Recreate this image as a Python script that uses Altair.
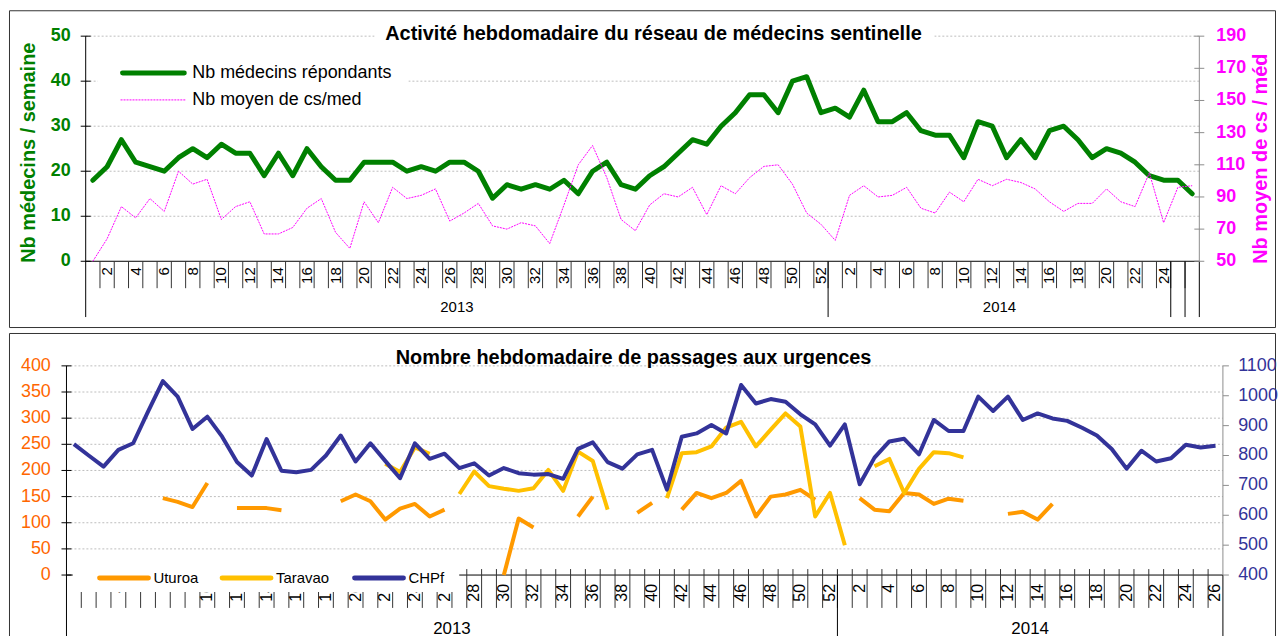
import altair as alt
import pandas as pd

FONT = "Liberation Sans"
GREEN = "#008000"
MAGENTA = "#FF00FF"
ORANGE = "#FF9900"
ORANGE_LBL = "#FF6600"
GOLD = "#FFC000"
NAVY = "#333399"
GRID = "#BDBDBD"
AXGRAY = "#8C8C8C"

# ---------------- data ----------------
weeks_2013 = list(range(1, 53))
weeks_2014 = list(range(1, 27))

medecins = [18, 21, 27, 22, 21, 20, 23, 25, 23, 26,
            24, 24, 19, 24, 19, 25, 21, 18, 18, 22,
            22, 22, 20, 21, 20, 22, 22, 20, 14, 17,
            16, 17, 16, 18, 15, 20, 22, 17, 16, 19,
            21, 24, 27, 26, 30, 33, 37, 37, 33, 40,
            41, 33,
            34, 32, 38, 31, 31, 33, 29, 28, 28, 23,
            31, 30, 23, 27, 23, 29, 30, 27, 23, 25,
            24, 22, 19, 18, 18, 15]

cs_med = [43, 64, 84, 77, 89, 81, 106, 98, 101, 76,
          84, 87, 67, 67, 71, 83, 89, 68, 58, 87,
          74, 96, 89, 91, 95, 75, 80, 86, 72, 70,
          74, 72, 61, 85, 110, 122, 102, 76, 69, 85,
          92, 90, 96, 79, 97, 92, 102, 109, 110, 98,
          80, 73,
          63, 91, 97, 90, 91, 96, 83, 80, 93, 87,
          101, 97, 101, 99, 95, 87, 81, 86, 86, 95,
          87, 84, 105, 74, 96, 97]

uturoa = ([None] * 6 +
          [147, 140, 130, 176, None, 128, 128, 128, 124, None,
           None, None, 141, 154, 141, 106, 127, 136, 112, 125,
           None, None, None, 0, 108, 91, None, None, 112, 150,
           None, None, 119, 138, None, 125, 157, 147, 157, 180,
           112, 150, 154, 163, 144, None] +
          [None, 147, 125, 122, 157, 154, 136, 146, 142, None,
           None, 117, 121, 106, 136] + [None] * 11)

taravao = ([None] * 21 +
           [213, 197, 244, 232, None, 155, 198, 170, 165, 161,
            166, 201, 161, 236, 218, 125, None, None, None, 147,
            233, 235, 246, 282, 293, 246, 278, 309, 284, 112,
            157] +
           [57, None, 208, 222, 157, 203, 235, 233, 225] + [None] * 17)

chpf = [838, 800, 763, 819, 841, 947, 1049, 997, 889, 930,
        863, 778, 733, 855, 749, 744, 752, 800, 867, 780,
        841, 782, 724, 841, 789, 806, 758, 774, 733, 758,
        741, 736, 738, 722, 822, 844, 778, 756, 804, 819,
        686, 863, 874, 902, 874, 1036, 974, 989, 980, 938,
        904, 833,
        904, 704, 793, 847, 856, 804, 919, 882, 882, 997,
        949, 997, 919, 941, 924, 916, 893, 867, 822, 756,
        816, 780, 791, 836, 827, 833]

top_left_ticks = [0, 10, 20, 30, 40, 50]
top_right_ticks = [50, 70, 90, 110, 130, 150, 170, 190]
bot_left_ticks = [0, 50, 100, 150, 200, 250, 300, 350, 400]
bot_right_ticks = [400, 500, 600, 700, 800, 900, 1000, 1100]

# labelled category groups: (label, first idx, last idx)
top_groups = [("2013", 1, 52), ("2014", 53, 76), ("", 77, 77), ("", 78, 78)]
bot_groups = [("2013", 1, 52), ("2014", 53, 78)]

TOP_TITLE = "Activité hebdomadaire du réseau de médecins sentinelle"
BOT_TITLE = "Nombre hebdomadaire de passages aux urgences"
TOP_YL_TITLE = "Nb médecins / semaine"
TOP_YR_TITLE = "Nb moyen de cs / méd"
TOP_LEG = ["Nb médecins répondants", "Nb moyen de cs/med"]
BOT_LEG = ["Uturoa", "Taravao", "CHPf"]

# ---------------- tables ----------------
N = len(weeks_2013) + len(weeks_2014)
idx = list(range(1, N + 1))
week_no = weeks_2013 + weeks_2014

top_df = pd.DataFrame({"idx": idx, "med": medecins, "cs": cs_med})

top_lbl = pd.DataFrame({
    "idx": idx,
    "label": [str(w) if (w % 2 == 0 and i <= 76) else "" for i, w in zip(idx, week_no)],
})
bot_lbl = pd.DataFrame({
    "idx": idx,
    "label": [str(w) if w % 2 == 0 else "" for w in week_no],
})
boundaries = pd.DataFrame({"b": [i + 0.5 for i in range(1, N)]})


def seg_table(values):
    rows, seg = [], 0
    for i, v in zip(idx, values):
        if v is None:
            seg += 1
            continue
        rows.append({"idx": i, "v": v, "seg": seg})
    return pd.DataFrame(rows)


def group_tables(groups):
    centers = pd.DataFrame({
        "c": [(a + b) / 2 for (_, a, b) in groups],
        "label": [g for (g, _, _) in groups],
    })
    divs = pd.DataFrame({"d": sorted({b + 0.5 for (_, _, b) in groups} - {N + 0.5})})
    return centers, divs


one = pd.DataFrame({"k": [0]})


def S(domain, rng, clamp=False):
    if clamp:
        return alt.Scale(domain=domain, range=rng, nice=False, zero=False, clamp=True)
    return alt.Scale(domain=domain, range=rng, nice=False, zero=False)


def hrule(x0, x1, y, color="black", width=1, dash=None, cap="butt"):
    kw = dict(color=color, strokeWidth=width, strokeCap=cap)
    if dash:
        kw["strokeDash"] = dash
    return alt.Chart(one).mark_rule(**kw).encode(
        x=alt.value(x0), x2=alt.value(x1), y=alt.value(y))


def vrule(x, y0, y1, color="black", width=1):
    return alt.Chart(one).mark_rule(color=color, strokeWidth=width).encode(
        x=alt.value(x), y=alt.value(y0), y2=alt.value(y1))


def white_box(x0, x1, y0, y1):
    return alt.Chart(one).mark_rect(color="white").encode(
        x=alt.value(x0), x2=alt.value(x1), y=alt.value(y0), y2=alt.value(y1))


def label(text, x, y, size, color="black", bold=False, angle=0, align="center"):
    kw = dict(font=FONT, fontSize=size, color=color, align=align, baseline="middle",
              fontWeight="bold" if bold else "normal")
    if angle:
        kw["angle"] = angle
    return alt.Chart(one).mark_text(**kw).encode(
        x=alt.value(x), y=alt.value(y), text=alt.value(text))


def y_axis(ticks, scale, tick_x0, tick_x1, lbl_x, align, color, bold, tick_color="black"):
    d = pd.DataFrame({"v": ticks})
    t = alt.Chart(d).mark_rule(color=tick_color, strokeWidth=1).encode(
        y=alt.Y("v:Q", scale=scale, axis=None), x=alt.value(tick_x0), x2=alt.value(tick_x1))
    lab = alt.Chart(d).mark_text(font=FONT, fontSize=18, color=color, align=align,
                                 baseline="middle",
                                 fontWeight="bold" if bold else "normal").encode(
        y=alt.Y("v:Q", scale=scale, axis=None), x=alt.value(lbl_x),
        text=alt.Text("v:Q", format="d"))
    return [t, lab]


def grid(ticks, scale, x0, x1):
    d = pd.DataFrame({"v": ticks})
    return alt.Chart(d).mark_rule(color=GRID, strokeWidth=1, strokeDash=[2, 2]).encode(
        y=alt.Y("v:Q", scale=scale, axis=None), x=alt.value(x0), x2=alt.value(x1))


PANEL_W = 1271

# ---------------- top panel ----------------
TH = 318
X0, X1, Y0, Y1 = 77, 1195, 26, 252
BOTT = 308
xs = S([0.5, N + 0.5], [X0, X1])
yl = S([0, 50], [Y1, Y0])
yr = S([50, 190], [Y1, Y0], clamp=True)

t_centers, t_divs = group_tables(top_groups)

top_layers = [
    grid(top_left_ticks[1:], yl, X0, X1),
    white_box(367, 929, 16, 33),
    hrule(X0, X1, Y1),
    alt.Chart(boundaries).mark_rule(color="#333333", strokeWidth=1).encode(
        x=alt.X("b:Q", scale=xs, axis=None), y=alt.value(Y1), y2=alt.value(279)),
    alt.Chart(t_divs).mark_rule(color="black", strokeWidth=1).encode(
        x=alt.X("d:Q", scale=xs, axis=None), y=alt.value(Y1), y2=alt.value(BOTT)),
    vrule(X0, Y0, BOTT),
    vrule(X1, Y0, Y1, color=AXGRAY),
    vrule(X1, Y1, BOTT),
    *y_axis(top_left_ticks, yl, X0 - 5, X0 + 5, 62, "right", GREEN, True),
    *y_axis(top_right_ticks, yr, X1 - 5, X1 + 5, 1212, "left", MAGENTA, True,
            tick_color=AXGRAY),
    alt.Chart(top_lbl).mark_text(font=FONT, fontSize=15, angle=270, align="right",
                                 baseline="middle", color="black").encode(
        x=alt.X("idx:Q", scale=xs, axis=None), y=alt.value(258), text="label:N"),
    alt.Chart(t_centers).mark_text(font=FONT, fontSize=15, color="black").encode(
        x=alt.X("c:Q", scale=xs, axis=None), y=alt.value(298), text="label:N"),
    alt.Chart(top_df).mark_line(color=GREEN, strokeWidth=5, strokeJoin="round",
                                strokeCap="round").encode(
        x=alt.X("idx:Q", scale=xs, axis=None), y=alt.Y("med:Q", scale=yl, axis=None)),
    alt.Chart(top_df).mark_line(color=MAGENTA, strokeWidth=1, strokeDash=[2, 1]).encode(
        x=alt.X("idx:Q", scale=xs, axis=None), y=alt.Y("cs:Q", scale=yr, axis=None)),
    white_box(89, 401, 47, 102),
    hrule(114, 176, 63, color=GREEN, width=5, cap="round"),
    hrule(112, 178, 90, color=MAGENTA, width=1, dash=[2, 1]),
    label(TOP_LEG[0], 184, 63, 18, align="left"),
    label(TOP_LEG[1], 184, 90, 18, align="left"),
    label(TOP_TITLE, 647, 24, 20, bold=True),
    label(TOP_YL_TITLE, 20, 143, 20, color=GREEN, bold=True, angle=270),
    label(TOP_YR_TITLE, 1257, 149, 20, color=MAGENTA, bold=True, angle=270),
]

top = alt.layer(*top_layers).resolve_scale(x="independent", y="independent").properties(
    width=PANEL_W, height=TH)

# ---------------- bottom panel ----------------
BH = 322
BX0, BX1, BY0, BY1 = 57.7, 1218.7, 33, 243
BBOT = BH
bxs = S([0.5, N + 0.5], [BX0, BX1])
byl = S([0, 400], [BY1, BY0])
byr = S([400, 1100], [BY1, BY0])

b_centers, b_divs = group_tables(bot_groups)
ut_df = seg_table(uturoa)
ta_df = seg_table(taravao)
ch_df = seg_table(chpf)


def series(df, color, scale):
    return alt.Chart(df).mark_line(color=color, strokeWidth=4, strokeJoin="round",
                                   strokeCap="butt").encode(
        x=alt.X("idx:Q", scale=bxs, axis=None),
        y=alt.Y("v:Q", scale=scale, axis=None),
        detail="seg:N")


bot_layers = [
    grid(bot_left_ticks[1:], byl, BX0, BX1),
    hrule(BX0, BX1, BY1),
    alt.Chart(boundaries).mark_rule(color="#333333", strokeWidth=1).encode(
        x=alt.X("b:Q", scale=bxs, axis=None), y=alt.value(237), y2=alt.value(276)),
    alt.Chart(b_divs).mark_rule(color="black", strokeWidth=1).encode(
        x=alt.X("d:Q", scale=bxs, axis=None), y=alt.value(BY1), y2=alt.value(BBOT)),
    vrule(BX0, BY0, BBOT),
    vrule(BX1, BY0, BY1, color=AXGRAY),
    vrule(BX1, BY1, BBOT),
    *y_axis(bot_left_ticks, byl, BX0 - 5, BX0 + 5, 42, "right", ORANGE_LBL, False),
    *y_axis(bot_right_ticks, byr, BX1, BX1 + 6, 1234, "left", NAVY, False,
            tick_color=AXGRAY),
    alt.Chart(bot_lbl).mark_text(font=FONT, fontSize=16, angle=270, align="right",
                                 baseline="middle", color="black").encode(
        x=alt.X("idx:Q", scale=bxs, axis=None), y=alt.value(252), text="label:N"),
    alt.Chart(b_centers).mark_text(font=FONT, fontSize=17, color="black").encode(
        x=alt.X("c:Q", scale=bxs, axis=None), y=alt.value(297), text="label:N"),
    series(ut_df, ORANGE, byl),
    series(ta_df, GOLD, byl),
    series(ch_df, NAVY, byr),
    white_box(64, 452, 231, 260),
    hrule(91, 140, 246, color=ORANGE, width=5, cap="round"),
    hrule(214, 263, 246, color=GOLD, width=5, cap="round"),
    hrule(347, 396, 246, color=NAVY, width=5, cap="round"),
    label(BOT_LEG[0], 145, 246, 15, align="left"),
    label(BOT_LEG[1], 268, 246, 15, align="left"),
    label(BOT_LEG[2], 401, 246, 15, align="left"),
    label(BOT_TITLE, 627, 25, 20, bold=True),
]

bottom = alt.layer(*bot_layers).resolve_scale(x="independent", y="independent").properties(
    width=PANEL_W, height=BH)

chart = alt.vconcat(top, bottom, spacing=4).properties(
    padding={"left": 0, "top": 0, "right": 0, "bottom": 0}
).configure_view(stroke="#333333", strokeWidth=1)

chart.save("out.html", embed_options={"renderer": "svg", "actions": False})
